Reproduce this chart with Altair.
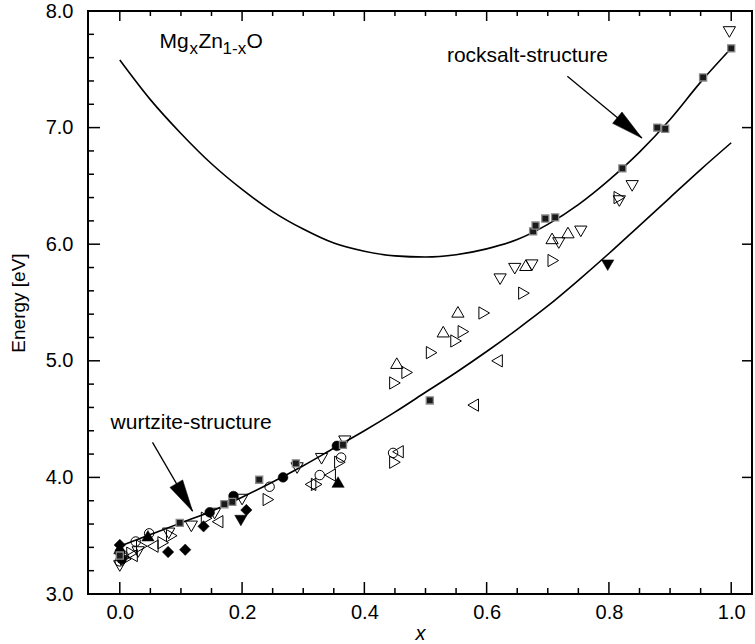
import altair as alt
import pandas as pd

FONT = "Liberation Sans"

# ---------------- data ----------------
CURVE_X = [0.0, 0.05, 0.10, 0.15, 0.20, 0.25, 0.30, 0.35, 0.40, 0.45, 0.50,
           0.55, 0.60, 0.65, 0.70, 0.75, 0.80, 0.85, 0.90, 0.95, 1.00]
ROCKSALT_E = [7.58, 7.24, 6.95, 6.69, 6.47, 6.28, 6.13, 6.01, 5.94, 5.90, 5.89,
              5.91, 5.96, 6.04, 6.17, 6.34, 6.55, 6.79, 7.07, 7.39, 7.68]
WURTZITE_E = [3.41, 3.51, 3.61, 3.71, 3.83, 3.96, 4.10, 4.25, 4.40, 4.56, 4.73,
              4.90, 5.08, 5.27, 5.47, 5.69, 5.92, 6.16, 6.40, 6.64, 6.87]

SQ_X = [0.0, 0.098, 0.171, 0.184, 0.228, 0.288, 0.365, 0.507, 0.676, 0.680, 0.696, 0.712, 0.822, 0.879, 0.892, 0.954, 1.000]
SQ_E = [3.33, 3.61, 3.77, 3.79, 3.98, 4.12, 4.28, 4.66, 6.11, 6.16, 6.22, 6.23, 6.65, 7.00, 6.99, 7.43, 7.68]

FCIRC_X = [0.0, 0.003, 0.147, 0.186, 0.267, 0.355]
FCIRC_E = [3.36, 3.30, 3.70, 3.84, 4.00, 4.27]

FDIAM_X = [0.0, 0.079, 0.107, 0.137, 0.207]
FDIAM_E = [3.42, 3.36, 3.38, 3.58, 3.72]

FTDOWN_X = [0.198, 0.798]
FTDOWN_E = [3.63, 5.82]

FTUP_X = [0.0, 0.046, 0.357]
FTUP_E = [3.39, 3.50, 3.96]

OCIRC_X = [0.0, 0.006, 0.026, 0.048, 0.245, 0.327, 0.362, 0.447]
OCIRC_E = [3.28, 3.33, 3.45, 3.52, 3.92, 4.02, 4.17, 4.21]

OTDOWN_X = [0.0, 0.03, 0.080, 0.117, 0.155, 0.200, 0.290, 0.330, 0.368,
            0.622, 0.646, 0.674, 0.718, 0.754, 0.817, 0.838, 0.997]
OTDOWN_E = [3.24, 3.36, 3.52, 3.58, 3.69, 3.81, 4.08, 4.16, 4.31,
            5.70, 5.79, 5.82, 6.01, 6.11, 6.37, 6.50, 7.82]

OTUP_X = [0.453, 0.529, 0.553, 0.664, 0.707, 0.733]
OTUP_E = [4.98, 5.25, 5.42, 5.82, 6.05, 6.10]

OTRIGHT_X = [0.01, 0.02, 0.036, 0.071, 0.085, 0.142, 0.243, 0.322, 0.360, 0.450,
             0.450, 0.470, 0.510, 0.550, 0.562, 0.596, 0.661, 0.709, 0.817]
OTRIGHT_E = [3.30, 3.35, 3.41, 3.44, 3.50, 3.65, 3.81, 3.94, 4.13, 4.13,
             4.81, 4.90, 5.07, 5.17, 5.25, 5.41, 5.58, 5.86, 6.40]

OTLEFT_X = [0.02, 0.054, 0.160, 0.312, 0.344, 0.455, 0.578, 0.617]
OTLEFT_E = [3.33, 3.41, 3.62, 3.94, 4.02, 4.22, 4.62, 5.00]

X_MAJOR = [0.0, 0.2, 0.4, 0.6, 0.8, 1.0]
X_MINOR = [0.05, 0.10, 0.15, 0.25, 0.30, 0.35, 0.45, 0.50, 0.55,
           0.65, 0.70, 0.75, 0.85, 0.90, 0.95]
Y_LABELS = [3.0, 4.0, 5.0, 6.0, 7.0, 8.0]
Y_MAJOR = [4.0, 5.0, 6.0, 7.0]
Y_MINOR = [3.2, 3.4, 3.6, 3.8, 4.2, 4.4, 4.6, 4.8, 5.2, 5.4, 5.6, 5.8,
           6.2, 6.4, 6.6, 6.8, 7.2, 7.4, 7.6, 7.8]

# annotations
ANN_TEXT = ["wurtzite-structure", "rocksalt-structure"]
ANN_X = [-0.015, 0.535]
ANN_E = [4.47, 7.61]
ARROW_X1 = [0.0535, 0.732]
ARROW_E1 = [4.30, 7.44]
ARROW_X2 = [0.119, 0.854]
ARROW_E2 = [3.71, 6.91]
ARROW_ANGLE = [149.5, 129.6]
FORMULA_X = 0.065
FORMULA_E = 7.73

# ---------------- chart ----------------
W, H = 664, 583
XS = alt.Scale(domain=[-0.052, 1.034], nice=False, zero=False)
YS = alt.Scale(domain=[3.0, 8.0], nice=False, zero=False)

xaxis = alt.Axis(values=X_MAJOR, format=".1f", ticks=False, tickSize=0, domain=False,
                 grid=False, labelFont=FONT, labelFontSize=20, labelColor="black",
                 labelPadding=8, labelFlush=False, labelOverlap=False,
                 titleFont=FONT, titleFontSize=20, titleFontStyle="italic",
                 titleFontWeight="normal", titleColor="black", titlePadding=1)
yaxis = alt.Axis(values=Y_LABELS, format=".1f", ticks=False, tickSize=0, domain=False,
                 grid=False, labelFont=FONT, labelFontSize=20, labelColor="black",
                 labelPadding=15, labelFlush=False, labelOverlap=False,
                 titleFont=FONT, titleFontSize=19, titleFontWeight="normal",
                 titleColor="black", titlePadding=17)

X = alt.X("x:Q", scale=XS, axis=xaxis, title="x")
Y = alt.Y("E:Q", scale=YS, axis=yaxis, title="Energy [eV]")

curve_df = pd.DataFrame({"x": CURVE_X * 2,
                         "E": ROCKSALT_E + WURTZITE_E,
                         "s": ["rocksalt"] * len(CURVE_X) + ["wurtzite"] * len(CURVE_X)})
curves = alt.Chart(curve_df).mark_line(color="black", strokeWidth=1.6, interpolate="monotone").encode(
    x=X, y=Y, detail="s:N")


def pts(xs, es, shape, filled, size, stroke_w=1.0, fill=None, stroke=None):
    df = pd.DataFrame({"x": xs, "E": es})
    kw = dict(shape=shape, filled=filled, size=size, opacity=1, strokeWidth=stroke_w)
    if filled:
        kw["fill"] = fill or "black"
        kw["stroke"] = stroke or "black"
    else:
        kw["color"] = "black"
    return alt.Chart(df).mark_point(**kw).encode(x=X, y=Y)


layers = [curves]
layers.append(pts(OTDOWN_X, OTDOWN_E, "triangle-down", False, 150))
layers.append(pts(OTUP_X, OTUP_E, "triangle-up", False, 150))
layers.append(pts(OTRIGHT_X, OTRIGHT_E, "triangle-right", False, 150))
layers.append(pts(OTLEFT_X, OTLEFT_E, "triangle-left", False, 150))
layers.append(pts(OCIRC_X, OCIRC_E, "circle", False, 90))
layers.append(pts(FDIAM_X, FDIAM_E, "diamond", True, 130, 0.5))
layers.append(pts(FTDOWN_X, FTDOWN_E, "triangle-down", True, 150, 0.5))
layers.append(pts(FTUP_X, FTUP_E, "triangle-up", True, 150, 0.5))
layers.append(pts(FCIRC_X, FCIRC_E, "circle", True, 95, 0.5))
layers.append(pts(SQ_X, SQ_E, "square", True, 50, 1.3, fill="#1a1a1a", stroke="#8a8a8a"))

# ticks (inward)
def vticks(vals, y1, y2, w=1.5):
    return alt.Chart(pd.DataFrame({"x": vals})).mark_rule(color="black", strokeWidth=w).encode(
        x=X, y=alt.value(y1), y2=alt.value(y2))


def hticks(vals, x1, x2, w=1.5):
    return alt.Chart(pd.DataFrame({"E": vals})).mark_rule(color="black", strokeWidth=w).encode(
        y=Y, x=alt.value(x1), x2=alt.value(x2))


layers += [vticks(X_MAJOR, H, H - 12), vticks(X_MINOR, H, H - 6),
           vticks(X_MAJOR, 0, 10), vticks(X_MINOR, 0, 5),
           hticks(Y_MAJOR, 0, 12), hticks(Y_MINOR, 0, 6),
           hticks(Y_MAJOR, W, W - 10)]

# arrows
arrow_df = pd.DataFrame({"x": ARROW_X1, "E": ARROW_E1, "x2": ARROW_X2, "E2": ARROW_E2,
                         "ang": ARROW_ANGLE})
layers.append(alt.Chart(arrow_df).mark_rule(color="black", strokeWidth=1.3).encode(
    x=X, y=Y, x2="x2:Q", y2="E2:Q"))
head_df = pd.DataFrame({"x": ARROW_X2, "E": ARROW_E2, "ang": ARROW_ANGLE})
layers.append(alt.Chart(head_df).mark_point(
    shape="M0,0L0.46,2L-0.46,2Z", filled=True, fill="black", stroke="black",
    strokeWidth=0.5, size=1024, opacity=1).encode(
    x=X, y=Y, angle=alt.Angle("ang:Q", scale=None)))

# text annotations
ann_df = pd.DataFrame({"x": ANN_X, "E": ANN_E, "t": ANN_TEXT})
layers.append(alt.Chart(ann_df).mark_text(font=FONT, fontSize=21, align="left",
                                           baseline="middle", color="black").encode(
    x=X, y=Y, text="t:N"))

form_df = pd.DataFrame({"x": [FORMULA_X], "E": [FORMULA_E]})
for txt, dx, dy, fs in [("Mg", 0, 0, 21), ("x", 30, 7, 17), ("Zn", 39, 0, 21),
                        ("1-x", 63, 7, 17), ("O", 87, 0, 21)]:
    layers.append(alt.Chart(form_df).mark_text(
        text=txt, font=FONT, fontSize=fs, align="left", baseline="middle",
        dx=dx, dy=dy, color="black").encode(x=X, y=Y))

chart = alt.layer(*layers).properties(
    width=W, height=H,
    autosize=alt.AutoSizeParams(type="none"),
    padding={"left": 88, "top": 11, "right": 3, "bottom": 50},
    background="white",
).configure_view(stroke="black", strokeWidth=2)

chart.save("out.html", embed_options={"renderer": "svg", "actions": False})
